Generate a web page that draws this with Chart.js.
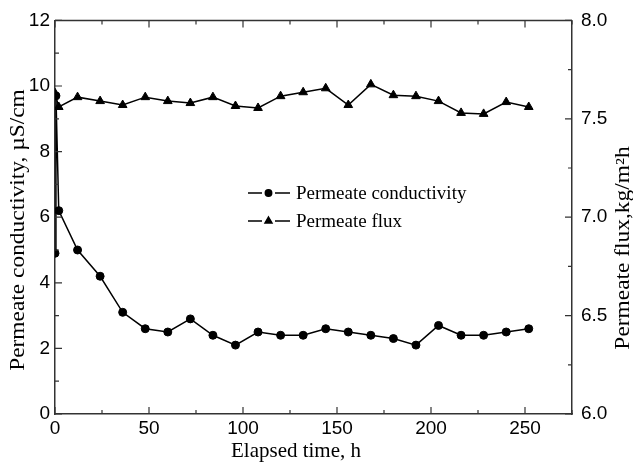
<!DOCTYPE html>
<html>
<head>
<meta charset="utf-8">
<script src="https://cdn.jsdelivr.net/npm/chart.js@4/dist/chart.umd.min.js"></script>
<style>
  body { margin: 0; background: #fff; }
  #wrap { width: 633px; height: 462px; position: relative; }
</style>
</head>
<body>
<div id="wrap"><canvas id="chartPermeate"></canvas></div>
<script>
// data
const condHours = [0, 0.5, 2, 12, 24, 36, 48, 60, 72, 84, 96, 108, 120, 132, 144, 156, 168, 180, 192, 204, 216, 228, 240, 252];
const condValues = [4.9, 9.7, 6.2, 5.0, 4.2, 3.1, 2.6, 2.5, 2.9, 2.4, 2.1, 2.5, 2.4, 2.4, 2.6, 2.5, 2.4, 2.3, 2.1, 2.7, 2.4, 2.4, 2.5, 2.6];
const fluxHours = [0, 2, 12, 24, 36, 48, 60, 72, 84, 96, 108, 120, 132, 144, 156, 168, 180, 192, 204, 216, 228, 240, 252];
const fluxValues = [7.63, 7.56, 7.61, 7.59, 7.57, 7.61, 7.59, 7.58, 7.61, 7.565, 7.555, 7.615, 7.635, 7.655, 7.57, 7.675, 7.62, 7.615, 7.59, 7.53, 7.525, 7.585, 7.56];

const seriesLabels = ["Permeate conductivity", "Permeate flux"];
const xTitle = "Elapsed time, h";
const yTitle = "Permeate conductivity, \u00b5S/cm";
const y1Title = "Permeate flux,kg/m\u00b2h";

const axisColor = "#333";
const sansFont = "'Liberation Sans', Arial, sans-serif";
const serifFont = "'Liberation Serif', 'Times New Roman', serif";

// inward tick marks (major + minor) and the top frame line
const tickMarks = {
  id: "tickMarks",
  afterDraw(chart) {
    const { ctx, chartArea: a, scales } = chart;
    ctx.save();
    ctx.strokeStyle = axisColor;
    ctx.lineWidth = 1.2;
    ctx.beginPath();
    scales.x.ticks.forEach((t) => {
      const px = scales.x.getPixelForValue(t.value);
      const len = t.value % 50 === 0 ? 7 : 4;
      ctx.moveTo(px, a.bottom);
      ctx.lineTo(px, a.bottom - len);
      ctx.moveTo(px, a.top);
      ctx.lineTo(px, a.top + len);
    });
    scales.y.ticks.forEach((t) => {
      const py = scales.y.getPixelForValue(t.value);
      const len = t.value % 2 === 0 ? 7 : 4;
      ctx.moveTo(a.left, py);
      ctx.lineTo(a.left + len, py);
    });
    scales.y1.ticks.forEach((t) => {
      const py = scales.y1.getPixelForValue(t.value);
      const len = Math.abs(t.value * 2 - Math.round(t.value * 2)) < 1e-6 ? 7 : 4;
      ctx.moveTo(a.right, py);
      ctx.lineTo(a.right - len, py);
    });
    ctx.stroke();
    ctx.lineWidth = 1.5;
    ctx.beginPath();
    ctx.moveTo(a.left, a.top);
    ctx.lineTo(a.right, a.top);
    ctx.stroke();
    ctx.restore();
  },
};

// rotated title, stretched along its length like the scanned original
function drawVerticalTitle(ctx, text, x, y) {
  ctx.save();
  ctx.translate(x, y);
  ctx.rotate(-Math.PI / 2);
  ctx.scale(1.17, 1);
  ctx.fillText(text, 0, 0);
  ctx.restore();
}

// legend inside the plot + axis titles
const annotations = {
  id: "annotations",
  afterDraw(chart) {
    const { ctx } = chart;
    ctx.save();
    ctx.fillStyle = "#000";
    ctx.strokeStyle = "#000";
    ctx.font = "19px " + serifFont;
    ctx.textBaseline = "middle";
    const rows = [193, 221];
    chart.data.datasets.forEach((ds, i) => {
      const y = rows[i];
      ctx.lineWidth = 1.5;
      ctx.beginPath();
      ctx.moveTo(248, y);
      ctx.lineTo(262, y);
      ctx.moveTo(275, y);
      ctx.lineTo(290, y);
      ctx.stroke();
      Chart.helpers.drawPoint(ctx, { pointStyle: ds.pointStyle, radius: i === 0 ? 3.2 : 4, borderWidth: 1 }, 268.5, y);
      ctx.fill();
      ctx.fillText(ds.label, 296, y + 1);
    });

    ctx.textAlign = "center";
    ctx.font = "21px " + serifFont;
    ctx.fillText(xTitle, 296, 451);

    ctx.font = "20px " + serifFont;
    drawVerticalTitle(ctx, yTitle, 19, 230);
    drawVerticalTitle(ctx, y1Title, 624, 248);
    ctx.restore();
  },
};

const ctx = document.getElementById("chartPermeate");
const chart = new Chart(ctx.getContext("2d"), {
  type: "line",
  data: {
    datasets: [
      {
        label: seriesLabels[0],
        data: condHours.map((h, i) => ({ x: h, y: condValues[i] })),
        yAxisID: "y",
        borderColor: "#000",
        backgroundColor: "#000",
        borderWidth: 1.5,
        pointStyle: "circle",
        pointRadius: 4,
        pointBorderWidth: 1,
        tension: 0,
      },
      {
        label: seriesLabels[1],
        data: fluxHours.map((h, i) => ({ x: h, y: fluxValues[i] })),
        yAxisID: "y1",
        borderColor: "#000",
        backgroundColor: "#000",
        borderWidth: 1.5,
        pointStyle: "triangle",
        pointRadius: 5,
        pointBorderWidth: 1,
        tension: 0,
      },
    ],
  },
  options: {
    responsive: true,
    maintainAspectRatio: false,
    animation: false,
    layout: { padding: { top: 20, left: 0, right: 0, bottom: 0 } },
    plugins: { legend: { display: false }, tooltip: { enabled: false } },
    scales: {
      x: {
        type: "linear",
        min: 0,
        max: 275,
        afterFit: (s) => { s.height = 48; },
        border: { display: true, color: axisColor, width: 1.5 },
        grid: { drawOnChartArea: false, drawTicks: false },
        ticks: {
          stepSize: 25,
          padding: 3,
          color: "#000",
          font: { family: sansFont, size: 19 },
          maxRotation: 0,
          callback: (v) => (v % 50 === 0 ? String(v) : ""),
        },
      },
      y: {
        position: "left",
        min: 0,
        max: 12,
        afterFit: (s) => { s.width = 55; },
        border: { display: true, color: axisColor, width: 1.5 },
        grid: { drawOnChartArea: false, drawTicks: false },
        ticks: {
          stepSize: 1,
          padding: 5,
          color: "#000",
          font: { family: sansFont, size: 19 },
          callback: (v) => (v % 2 === 0 ? String(v) : ""),
        },
      },
      y1: {
        position: "right",
        min: 6,
        max: 8,
        afterFit: (s) => { s.width = 61; },
        border: { display: true, color: axisColor, width: 1.5 },
        grid: { drawOnChartArea: false, drawTicks: false },
        ticks: {
          stepSize: 0.25,
          padding: 9,
          color: "#000",
          font: { family: sansFont, size: 19 },
          callback: (v) => (Math.abs(v * 2 - Math.round(v * 2)) < 1e-6 ? v.toFixed(1) : ""),
        },
      },
    },
  },
  plugins: [tickMarks, annotations],
});
</script>
</body>
</html>
